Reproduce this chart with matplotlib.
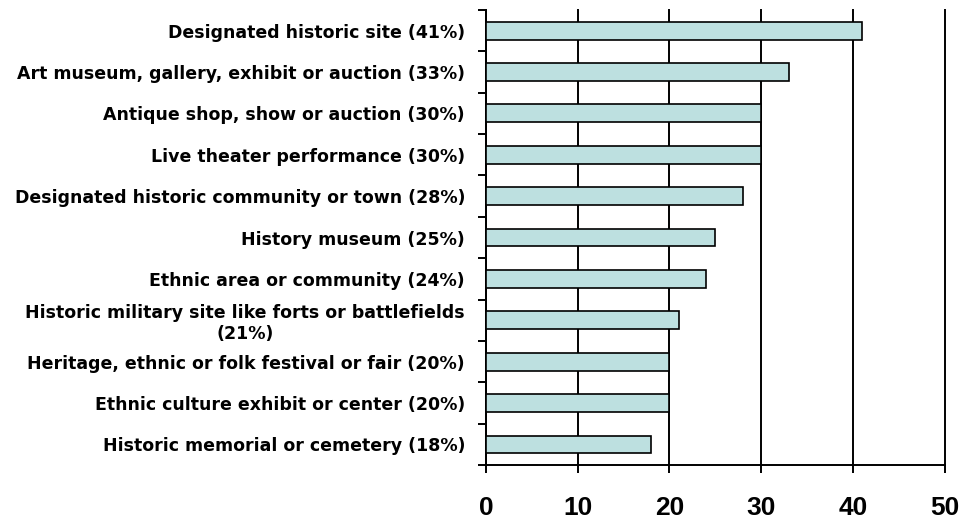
import numpy as np
import matplotlib
matplotlib.use("Agg")
import matplotlib.pyplot as plt

# Chart data (top to bottom)
categories = [
    "Designated historic site (41%)",
    "Art museum, gallery, exhibit or auction (33%)",
    "Antique shop, show or auction (30%)",
    "Live theater performance (30%)",
    "Designated historic community or town (28%)",
    "History museum (25%)",
    "Ethnic area or community (24%)",
    "Historic military site like forts or battlefields\n(21%)",
    "Heritage, ethnic or folk festival or fair (20%)",
    "Ethnic culture exhibit or center (20%)",
    "Historic memorial or cemetery (18%)",
]
values = [41, 33, 30, 30, 28, 25, 24, 21, 20, 20, 18]
x_ticks = [0, 10, 20, 30, 40, 50]

plt.rcParams["font.family"] = ["DejaVu Sans"]

fig = plt.figure(figsize=(9.66, 5.22), dpi=100)
ax = fig.add_axes([0.503, 0.109, 0.475, 0.872])

n = len(categories)
pos = np.arange(n)
ax.barh(pos, values, height=0.43, color="#bde0e0", edgecolor="black",
        linewidth=1.2, zorder=3)

ax.set_xlim(0, 50)
ax.set_ylim(n - 0.5, -0.5)

# x axis
ax.set_xticks(x_ticks)
ax.set_xticklabels([str(t) for t in x_ticks], fontsize=19, fontweight="bold",
                   family="Liberation Sans")
ax.tick_params(axis="x", length=6, width=1.4, pad=16)
ax.grid(axis="x", color="black", linewidth=1.4, zorder=0)
for gl in ax.get_xgridlines():
    gl.set_clip_on(False)

# y axis: boundary ticks + category labels as minor ticks
ax.set_yticks(np.arange(n + 1) - 0.5)
ax.set_yticklabels([])
ax.tick_params(axis="y", which="major", length=6, width=1.4)
ax.set_yticks(pos, minor=True)
ax.set_yticklabels(categories, minor=True, fontsize=12.5, fontweight="bold")
ax.tick_params(axis="y", which="minor", length=0, pad=15)
for lab in ax.get_yticklabels(minor=True):
    lab.set_multialignment("center")

for side in ["top", "right"]:
    ax.spines[side].set_visible(False)
for side in ["left", "bottom"]:
    ax.spines[side].set_linewidth(1.4)

fig.savefig("out.png", dpi=100)
